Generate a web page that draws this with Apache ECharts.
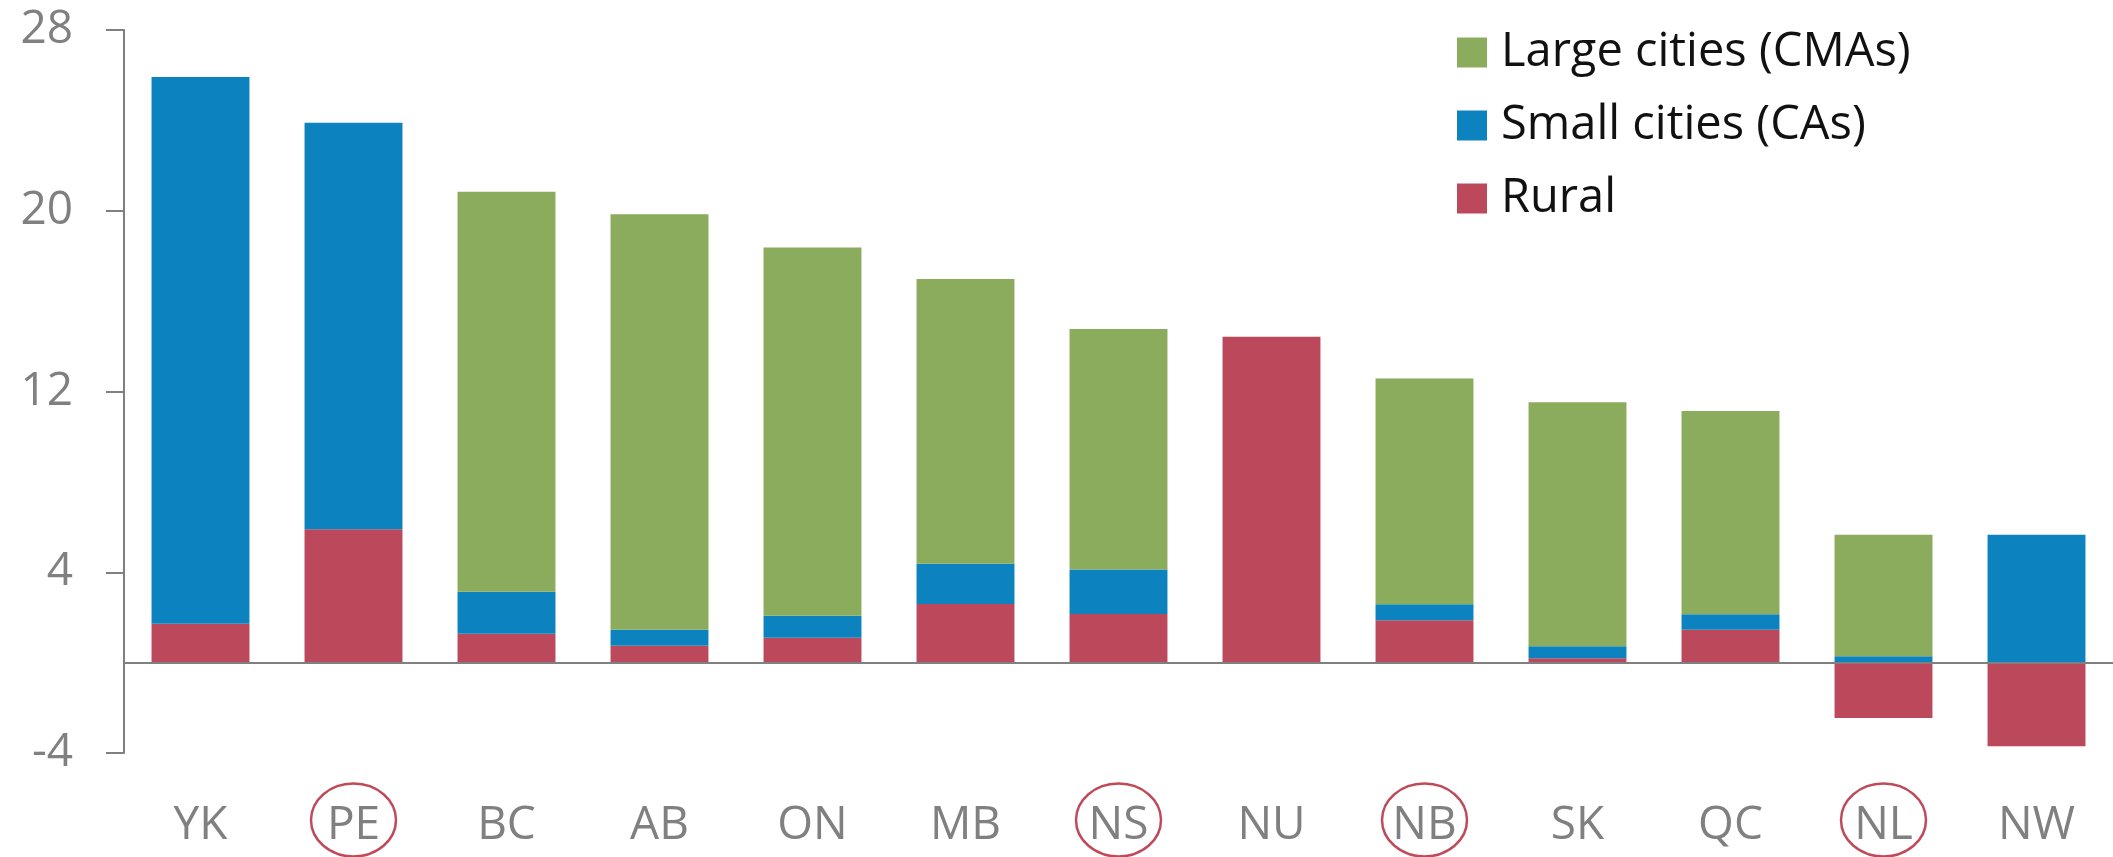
<!DOCTYPE html>
<html>
<head>
<meta charset="utf-8">
<script src="https://cdn.jsdelivr.net/npm/echarts@6/dist/echarts.min.js"></script>
<style>
  html, body { margin: 0; padding: 0; background: #fff; }
</style>
</head>
<body>
<div style="width:2113px;height:857px;" id="province_chart"></div>
<script>
  var provinces = ['YK', 'PE', 'BC', 'AB', 'ON', 'MB', 'NS', 'NU', 'NB', 'SK', 'QC', 'NL', 'NW']
  var circled = ['PE', 'NS', 'NB', 'NL']
  var rural = [1.72, 5.9, 1.28, 0.75, 1.1, 2.6, 2.15, 14.42, 1.88, 0.19, 1.45, -2.45, -3.7]
  var smallCities = [24.2, 18.0, 1.86, 0.7, 0.97, 1.78, 1.97, 0, 0.7, 0.53, 0.69, 0.28, 5.66]
  var largeCities = [0, 0, 17.7, 18.4, 16.3, 12.6, 10.65, 0, 10.0, 10.8, 9.0, 5.38, 0]
  var yTicks = [-4, 4, 12, 20, 28]

  var fontName = 'Open Sans'
  var grey = '#808080'

  var chart = echarts.init(document.getElementById('province_chart'))

  chart.setOption({
    animation: false,
    backgroundColor: '#fff',
    textStyle: { fontFamily: fontName },
    grid: {
      left: 124,
      right: 0,
      top: 30,
      bottom: 104
    },
    legend: {
      orient: 'vertical',
      left: 1452,
      top: 24,
      itemWidth: 30,
      itemHeight: 30,
      itemGap: 26,
      icon: 'rect',
      data: ['Large cities (CMAs)', 'Small cities (CAs)', 'Rural'],
      textStyle: {
        fontFamily: fontName,
        fontSize: 47,
        color: '#111',
        padding: [0, 0, 0, 9]
      }
    },
    xAxis: {
      type: 'category',
      data: provinces,
      axisLine: { show: false },
      axisTick: { show: false },
      axisLabel: {
        color: grey,
        fontFamily: fontName,
        fontSize: 46,
        margin: 50
      }
    },
    yAxis: {
      type: 'value',
      min: yTicks[0],
      max: yTicks[yTicks.length - 1],
      interval: 8,
      splitLine: { show: false },
      axisLine: { show: true, lineStyle: { color: grey, width: 2 } },
      axisTick: { show: true, length: 18, lineStyle: { color: grey, width: 2 } },
      axisLabel: {
        color: grey,
        fontFamily: fontName,
        fontSize: 46,
        margin: 51
      }
    },
    series: [
      {
        name: 'Rural',
        type: 'bar',
        stack: 'total',
        barWidth: '64%',
        itemStyle: { color: '#bb495b' },
        data: rural,
        markLine: {
          silent: true,
          symbol: 'none',
          label: { show: false },
          lineStyle: { color: grey, width: 2, type: 'solid' },
          data: [{ yAxis: 0 }]
        }
      },
      {
        name: 'Small cities (CAs)',
        type: 'bar',
        stack: 'total',
        itemStyle: { color: '#0c83be' },
        data: smallCities
      },
      {
        name: 'Large cities (CMAs)',
        type: 'bar',
        stack: 'total',
        itemStyle: { color: '#8aac5c' },
        data: largeCities
      }
    ]
  })

  // red rings round some of the province labels
  var bottomY = chart.convertToPixel({ yAxisIndex: 0 }, yTicks[0])
  var rings = circled.map(function (name) {
    return {
      type: 'ellipse',
      silent: true,
      shape: {
        cx: chart.convertToPixel({ xAxisIndex: 0 }, name),
        cy: bottomY + 67,
        rx: 42.5,
        ry: 36.5
      },
      style: { fill: 'none', stroke: '#bf4a5a', lineWidth: 2.5 }
    }
  })
  chart.setOption({ graphic: rings })
</script>
</body>
</html>
